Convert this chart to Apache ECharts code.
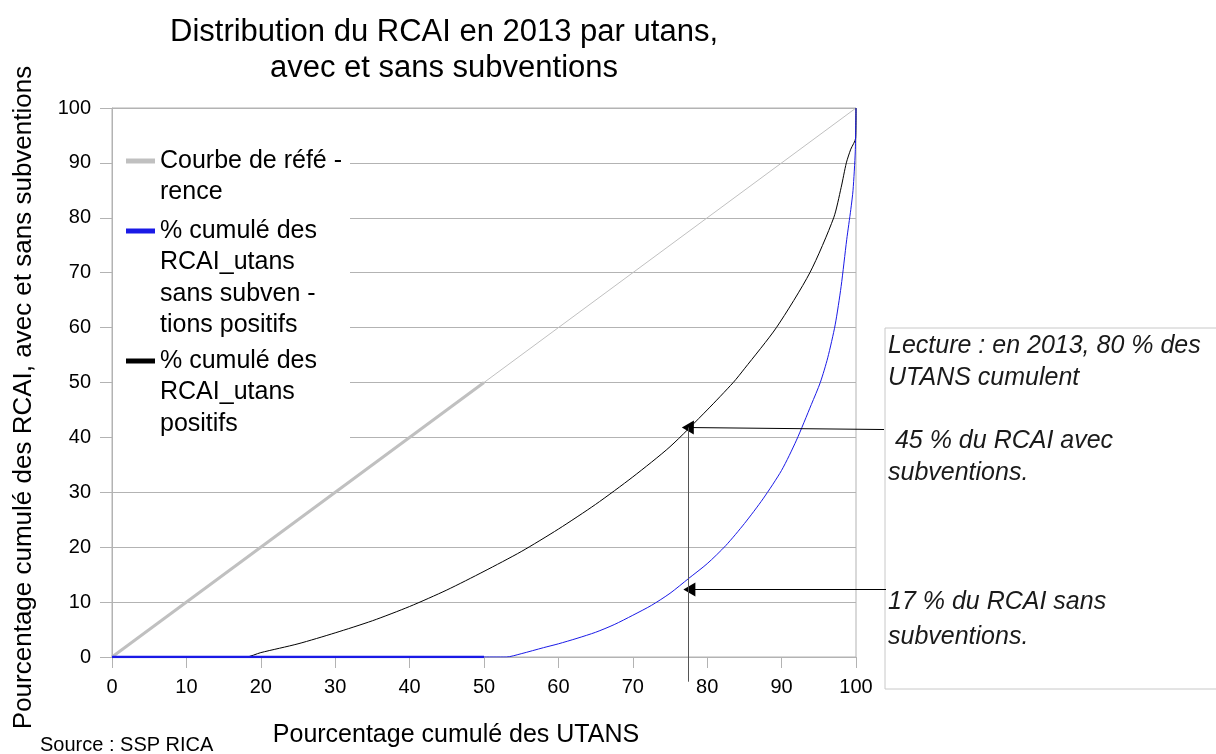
<!DOCTYPE html>
<html>
<head>
<meta charset="utf-8">
<script src="https://cdn.jsdelivr.net/npm/echarts@6/dist/echarts.min.js"></script>
<style>
  html, body { margin: 0; padding: 0; background: #fff; }
  #main { width: 1216px; height: 754px; }
</style>
</head>
<body>
<div id="main"></div>
<script>
// courbe de référence (diagonale)
var refX = [0, 50, 100];
var refY = [0, 50, 100];
// % cumulé des RCAI_utans positifs (avec subventions)
var avecX = [0, 18, 20, 25, 30, 35, 40, 45, 50, 55, 60, 65, 70, 75, 80, 83.5, 85, 89.3, 93.8, 97, 98, 98.7, 99.3, 99.95, 100];
var avecY = [0, 0, 0.8, 2.4, 4.4, 6.6, 9.2, 12.2, 15.6, 19.2, 23.3, 27.8, 32.8, 38.3, 45, 50, 52.5, 60, 70, 80, 85.5, 90, 92.5, 94.5, 100];
// % cumulé des RCAI_utans sans subventions positifs
var sansX = [0, 50, 53, 55, 58, 60, 62.5, 65, 67.5, 70, 72.5, 75, 77.5, 80, 82.5, 85, 87.5, 90, 92, 94, 95.2, 96.2, 97.2, 98, 98.75, 99.3, 99.6, 99.9, 100];
var sansY = [0, 0, 0, 0.6, 1.7, 2.4, 3.4, 4.5, 5.9, 7.6, 9.4, 11.6, 14.3, 17, 20.3, 24.3, 28.8, 34, 39.5, 46, 50, 54.5, 60.5, 67.5, 76, 81.5, 85, 92, 100];
// points de lecture (80 % des UTANS)
var lectureX = [77.4, 77.6];
var lectureY = [41.8, 12.3];
var lectureBas = -4.5;

var legRef = 'Courbe de réfé -\nrence';
var legSans = '% cumulé des\nRCAI_utans\nsans subven -\ntions positifs';
var legAvec = '% cumulé des\nRCAI_utans\npositifs';

function pairs(xs, ys, from, to) {
  var out = [];
  for (var i = 0; i < xs.length; i++) {
    if (xs[i] >= from && xs[i] <= to) out.push([xs[i], ys[i]]);
  }
  return out;
}

var FONT = 'Liberation Sans';
var LH = 31.5;

// une légende par série ; des lignes vides avant le texte pour que
// l'icône (centrée) tombe sur la 1re ligne
function legende(name, nLignes, centreIcone) {
  var vide = new Array(nLignes).join('\n');
  return {
    data: [name],
    orient: 'vertical',
    left: 126,
    top: centreIcone - (2 * nLignes - 1) * LH / 2,
    padding: 0,
    itemWidth: 29,
    itemHeight: 5,
    icon: 'rect',
    selectedMode: false,
    formatter: function (n) { return vide + n; },
    textStyle: { fontFamily: FONT, fontSize: 25, color: '#000', lineHeight: LH }
  };
}

var myChart = echarts.init(document.getElementById('main'));

var option = {
  animation: false,
  backgroundColor: '#fff',
  title: {
    text: 'Distribution du RCAI en 2013 par utans,\navec et sans subventions',
    left: 444,
    textAlign: 'center',
    top: 14,
    padding: 0,
    textStyle: { fontFamily: FONT, fontSize: 31, fontWeight: 'normal', color: '#000', lineHeight: 36 }
  },
  grid: {
    left: 112, right: 360, top: 108, bottom: 97,
    show: true, borderColor: '#b3b3b3', borderWidth: 1
  },
  legend: [
    legende(legRef, 2, 161),
    legende(legSans, 4, 231),
    legende(legAvec, 3, 361)
  ],
  xAxis: {
    type: 'value', min: 0, max: 100, interval: 10,
    name: 'Pourcentage cumulé des UTANS',
    nameLocation: 'middle', nameGap: 66,
    nameTextStyle: { fontFamily: FONT, fontSize: 25, color: '#000', padding: [0, 56, 0, 0] },
    axisLine: { show: true, lineStyle: { color: '#b3b3b3' } },
    axisTick: { show: true, length: 11, lineStyle: { color: '#b3b3b3' } },
    axisLabel: { fontFamily: FONT, fontSize: 20, color: '#000', margin: 20 },
    splitLine: { show: false }
  },
  yAxis: {
    type: 'value', min: 0, max: 100, interval: 10,
    name: 'Pourcentage cumulé des RCAI, avec et sans subventions',
    nameLocation: 'middle', nameGap: 75,
    nameTextStyle: { fontFamily: FONT, fontSize: 26, color: '#000', padding: [0, 30, 0, 0] },
    axisLine: { show: true, lineStyle: { color: '#b3b3b3' } },
    axisTick: { show: true, length: 12, lineStyle: { color: '#b3b3b3' } },
    axisLabel: { fontFamily: FONT, fontSize: 20, color: '#000', margin: 21 },
    splitLine: { show: true, lineStyle: { color: '#b3b3b3' } }
  },
  graphic: [
    // fond blanc de la légende
    { type: 'rect', z: 1, shape: { x: 113, y: 140, width: 237, height: 305 }, style: { fill: '#fff' } },
    // cadre de lecture
    { type: 'rect', z: 1, shape: { x: 885, y: 328, width: 340, height: 361 }, style: { fill: 'none', stroke: '#c8c8c8', lineWidth: 1 } },
    { type: 'text', z: 5, left: 888, top: 330, style: { text: 'Lecture : en 2013, 80 % des\nUTANS cumulent', fontFamily: FONT, fontSize: 25, fontStyle: 'italic', fill: '#1a1a1a', lineHeight: 32 } },
    { type: 'text', z: 5, left: 888, top: 425, style: { text: ' 45 % du RCAI avec\nsubventions.', fontFamily: FONT, fontSize: 25, fontStyle: 'italic', fill: '#1a1a1a', lineHeight: 32 } },
    { type: 'text', z: 5, left: 888, top: 585, style: { text: '17 % du RCAI sans\nsubventions.', fontFamily: FONT, fontSize: 25, fontStyle: 'italic', fill: '#1a1a1a', lineHeight: 35 } },
    { type: 'text', z: 5, left: 40, top: 735, style: { text: 'Source : SSP RICA', fontFamily: FONT, fontSize: 20, fill: '#000' } }
  ],
  series: [
    {
      name: legRef, type: 'line', symbol: 'none',
      data: pairs(refX, refY, 0, 50),
      lineStyle: { color: '#c0c0c0', width: 3 }, itemStyle: { color: '#c0c0c0' }
    },
    {
      name: 'ref2', type: 'line', symbol: 'none',
      data: pairs(refX, refY, 50, 100),
      lineStyle: { color: '#c0c0c0', width: 1 }, itemStyle: { color: '#c0c0c0' }
    },
    {
      name: legAvec, type: 'line', symbol: 'none', clip: false,
      smooth: 0.25,
      data: pairs(avecX, avecY, 0, 100),
      lineStyle: { color: '#000', width: 1 }, itemStyle: { color: '#000' }
    },
    {
      name: legSans, type: 'line', symbol: 'none',
      data: pairs(sansX, sansY, 0, 50),
      lineStyle: { color: '#1a1ae6', width: 2.5 }, itemStyle: { color: '#1a1ae6' }
    },
    {
      name: 'sans2', type: 'line', symbol: 'none',
      smooth: 0.25,
      data: pairs(sansX, sansY, 50, 100),
      lineStyle: { color: '#1a1ae6', width: 1 }, itemStyle: { color: '#1a1ae6' }
    }
  ]
};

myChart.setOption(option);

// flèches de lecture, placées par l'échelle des axes
var pA = myChart.convertToPixel({ gridIndex: 0 }, [lectureX[0], lectureY[0]]);
var pB = myChart.convertToPixel({ gridIndex: 0 }, [lectureX[1], lectureY[1]]);
var pBas = myChart.convertToPixel({ gridIndex: 0 }, [lectureX[0], lectureBas]);

myChart.setOption({
  series: [{}, {}, {
    markLine: {
      silent: true,
      animation: false,
      label: { show: false },
      emphasis: { disabled: true },
      lineStyle: { color: '#000', width: 1, type: 'solid' },
      data: [
        [{ x: 884, y: pA[1] + 2, symbol: 'none' }, { x: pA[0], y: pA[1], symbol: 'triangle', symbolSize: [14, 12] }],
        [{ x: 886, y: pB[1], symbol: 'none' }, { x: pB[0], y: pB[1], symbol: 'triangle', symbolSize: [14, 12] }],
        [{ x: pA[0], y: pA[1], symbol: 'none' }, { x: pA[0], y: pBas[1], symbol: 'none', lineStyle: { color: '#555' } }]
      ]
    }
  }]
});
</script>
</body>
</html>
